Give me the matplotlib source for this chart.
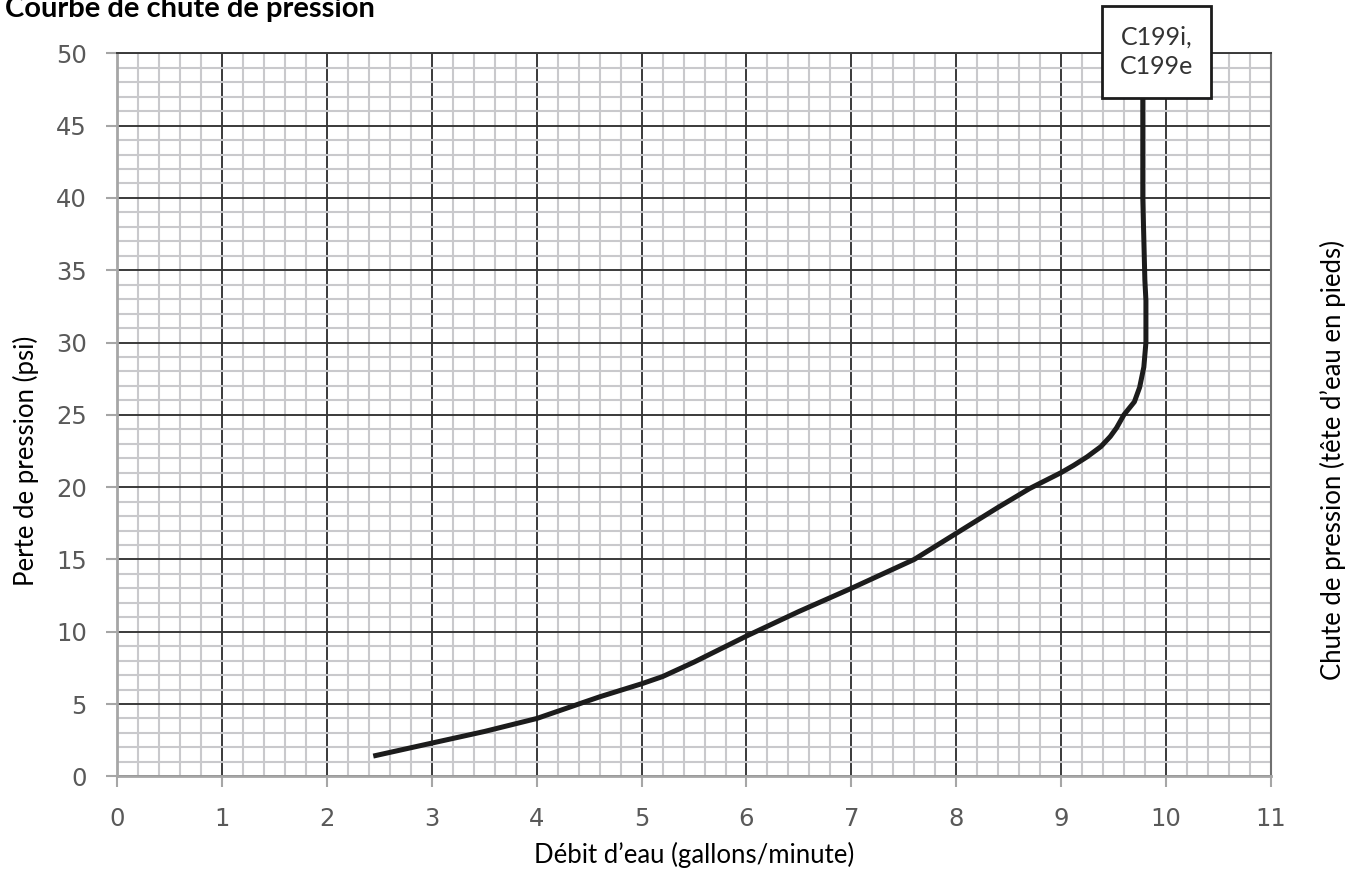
import numpy as np
import matplotlib.pyplot as plt
from matplotlib.patches import Rectangle
from matplotlib.ticker import MultipleLocator

# Pressure drop curve (flow in gpm, loss in psi)
DEBIT = [2.44, 3.0, 3.5, 4.0, 4.4, 4.6, 5.0, 5.2, 5.5, 6.0, 6.5, 7.0, 7.6,
         8.0, 8.4, 8.7, 9.0, 9.12, 9.25, 9.38, 9.47, 9.53, 9.60, 9.70, 9.75,
         9.79, 9.81, 9.81, 9.80, 9.78, 9.78]
PERTE = [1.4, 2.3, 3.1, 4.0, 5.0, 5.5, 6.4, 6.9, 7.9, 9.7, 11.4, 13.0, 15.0,
         16.8, 18.6, 19.9, 21.0, 21.5, 22.1, 22.8, 23.5, 24.1, 25.0, 25.9, 26.9,
         28.3, 30.0, 32.9, 34.3, 40.0, 48.0]

X_TICKS = list(range(0, 12))
Y_TICKS = list(range(0, 55, 5))
MODELE = "C199i,\nC199e"

FONT = "Lato"

fig = plt.figure(figsize=(13.58, 8.77), dpi=100)
ax = fig.add_axes([0.0865, 0.1148, 0.8492, 0.8244])

ax.set_xlim(0, 11)
ax.set_ylim(0, 50)
ax.set_xticks(X_TICKS)
ax.set_yticks(Y_TICKS)
ax.xaxis.set_minor_locator(MultipleLocator(0.2))
ax.yaxis.set_minor_locator(MultipleLocator(1))
ax.set_axisbelow(True)

ax.grid(which="minor", color="#c9c9cc", linewidth=1.5)
ax.grid(which="major", color="#3a3a3a", linewidth=1.4)

for side in ("left", "bottom"):
    ax.spines[side].set_color("#a6a6a6")
    ax.spines[side].set_linewidth(2)
ax.spines["top"].set_color("#3a3a3a")
ax.spines["top"].set_linewidth(1.4)
ax.spines["right"].set_color("#707070")
ax.spines["right"].set_linewidth(1.5)

ax.tick_params(which="major", length=8, width=1.5, color="#a6a6a6",
               labelsize=17.5, labelcolor="#595959", pad=14)
ax.tick_params(which="minor", length=0)

ax.plot(DEBIT, PERTE, color="#1c1c1c", linewidth=3.6,
        solid_capstyle="butt", solid_joinstyle="round", zorder=3)

ax.set_xlabel("Débit d’eau (gallons/minute)", fontsize=18.5, family=FONT,
              labelpad=8)
fig.text(0.019, 0.474, "Perte de pression (psi)", rotation=90, fontsize=18.5,
         family=FONT, ha="center", va="center")
fig.text(0.9816, 0.475, "Chute de pression (tête d’eau en pieds)", rotation=90,
         fontsize=18.5, family=FONT, ha="center", va="center")

fig.text(0.004, 0.9806, "Courbe de chute de pression", fontsize=21,
         fontweight="bold", family=FONT, ha="left", va="baseline")

# model label box at the top of the curve
box = Rectangle((9.394, 46.9), 1.04, 6.4, facecolor="white",
                edgecolor="#1c1c1c", linewidth=2, clip_on=False, zorder=5)
ax.add_patch(box)
ax.text(9.914, 50.1, MODELE, ha="center", va="center", fontsize=18,
        family=FONT, color="#333333", linespacing=1.3, zorder=6,
        clip_on=False)

fig.savefig("out.png", dpi=100)
